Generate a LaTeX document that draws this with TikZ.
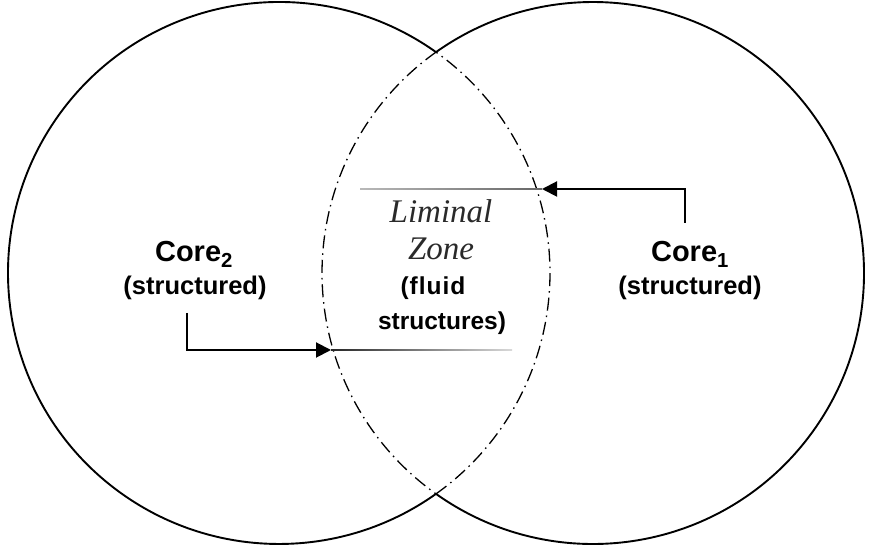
\documentclass[tikz,border=0pt]{standalone}
\usepackage{fontspec}
\setmainfont{Liberation Sans}
\newfontfamily\limfont{Liberation Serif}
\usetikzlibrary{arrows.meta}
\definecolor{limgray}{HTML}{2A2A2A}
\tikzset{
  ring/.style={line width=1.9pt, black},
  ringdash/.style={line width=1.3pt, black, dash pattern=on 13pt off 5pt on 1.5pt off 5pt},
  flow/.style={line width=2pt, black, -{Triangle[length=15pt,width=15pt]}},
  corelabel/.style={anchor=base, font=\fontsize{29}{33}\selectfont\bfseries},
  sublabel/.style={anchor=base, font=\fontsize{25.5}{29}\selectfont\bfseries},
  limlabel/.style={anchor=base, font=\fontsize{33}{38}\selectfont\limfont\itshape, text=limgray},
  fluidlabel/.style={anchor=base, font=\fontsize{24.5}{28}\selectfont\bfseries},
}
\begin{document}
\begin{tikzpicture}[x=1pt,y=1pt]
\useasboundingbox (0,0) rectangle (869,545);
% circles
\coordinate (lc) at (279,272);
\coordinate (rc) at (593,272);
\draw[ring] ([shift={(54.6:271)}]lc) arc[start angle=54.6, end angle=305.4, radius=271];
\draw[ringdash] ([shift={(-54.6:271)}]lc) arc[start angle=-54.6, end angle=54.6, radius=271];
\draw[ring] ([shift={(-125.4:271)}]rc) arc[start angle=-125.4, end angle=125.4, radius=271];
\draw[ringdash] ([shift={(125.4:271)}]rc) arc[start angle=125.4, end angle=234.6, radius=271];
% fading lines
\shade[left color=gray!55, right color=black!60] (360,355.2) rectangle (542,356.8);
\shade[left color=black!85, right color=gray!30] (331,194.2) rectangle (512,195.8);
% arrows
\coordinate (a1s) at (685,322);
\coordinate (a1b) at (685,356);
\coordinate (a1e) at (542,356);
\coordinate (a2s) at (187,232);
\coordinate (a2b) at (187,195);
\coordinate (a2e) at (331,195);
\draw[flow] (a1s) -- (a1b) -- (a1e);
\draw[flow] (a2s) -- (a2b) -- (a2e);
% labels
\node[corelabel] (core2) at (194,283) {Core\textsubscript{2}};
\node[sublabel] (str2) at (195,250) {(structured)};
\node[corelabel] (core1) at (690,283) {Core\textsubscript{1}};
\node[sublabel] (str1) at (690,250) {(structured)};
\node[limlabel] (lim) at (441,322) {Liminal};
\node[limlabel] (zone) at (441,285) {Zone};
\node[fluidlabel] (fluid) at (433,250) {\addfontfeature{LetterSpace=4}(fluid};
\node[fluidlabel] (structs) at (442,215) {structures)};
\end{tikzpicture}
\end{document}
